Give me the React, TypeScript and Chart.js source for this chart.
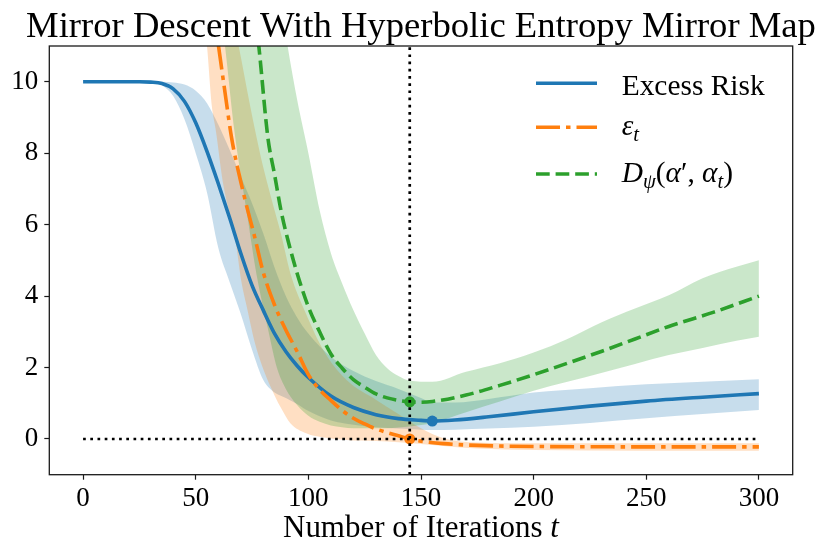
import React, { useEffect, useRef } from "react";
import { Chart, registerables } from "chart.js";

Chart.register(...registerables);

const FONT = "'Liberation Serif', 'Times New Roman', serif";

// ---- text ----
const TITLE = "Mirror Descent With Hyperbolic Entropy Mirror Map";
const X_LABEL = "Number of Iterations ";
const X_LABEL_VAR = "t";

// ---- axes ----
const X_TICKS = [0, 50, 100, 150, 200, 250, 300];
const Y_TICKS = [0, 2, 4, 6, 8, 10];
const X_RANGE = [-15, 315];
const Y_RANGE = [-1, 11];

// ---- Excess Risk (blue) ----
const T_BLUE = [0, 10, 20, 25, 30, 35, 40, 45, 50, 55, 60, 65, 70, 75, 80, 85, 90, 95, 100, 110, 120, 130, 140, 150, 155, 165, 180, 200, 225, 250, 275, 300];
const BLUE_MEAN = [10, 10, 10, 10, 9.99, 9.95, 9.8, 9.45, 8.85, 8.05, 7.15, 6.2, 5.2, 4.3, 3.6, 2.95, 2.45, 2.05, 1.72, 1.2, 0.88, 0.68, 0.57, 0.52, 0.5, 0.53, 0.62, 0.76, 0.92, 1.06, 1.17, 1.27];
const BLUE_UPPER = [10, 10, 10, 10, 10, 10, 9.98, 9.92, 9.75, 9.4, 8.8, 8.1, 7.35, 6.6, 5.75, 4.8, 4.0, 3.4, 2.95, 2.3, 1.9, 1.62, 1.4, 1.15, 1.02, 1.02, 1.12, 1.3, 1.42, 1.53, 1.6, 1.67];
const BLUE_LOWER = [10, 10, 10, 10, 10, 9.9, 9.6, 8.95, 8.0, 6.9, 5.35, 4.4, 3.5, 2.5, 1.65, 1.3, 1.15, 0.98, 0.78, 0.52, 0.4, 0.33, 0.29, 0.26, 0.25, 0.26, 0.29, 0.34, 0.45, 0.58, 0.7, 0.81];

// ---- epsilon_t (orange) ----
const T_ORANGE = [50, 55, 60, 63, 66, 70, 73, 76, 80, 85, 90, 95, 100, 105, 110, 115, 120, 125, 130, 135, 140, 145, 150, 160, 175, 200, 250, 300];
const ORANGE_MEAN = [15.5, 13.3, 11.05, 9.7, 8.4, 7.2, 6.42, 5.7, 4.66, 3.75, 3.05, 2.45, 1.8, 1.38, 1.08, 0.8, 0.58, 0.42, 0.28, 0.18, 0.09, 0.0, -0.06, -0.13, -0.18, -0.21, -0.22, -0.22];
const T_ORANGE_BAND = [45, 50, 55, 57, 59, 62, 65, 68, 70, 73, 76, 80, 85, 88, 92, 99, 107, 117, 130, 140, 150, 160, 175, 200, 250, 300];
const ORANGE_UPPER = [19, 17.5, 15.5, 14.6, 13.8, 12.7, 11.9, 11.3, 10.7, 9.7, 8.75, 7.6, 6.4, 5.7, 4.64, 3.5, 2.45, 1.65, 1.1, 0.7, 0.3, 0.02, -0.1, -0.12, -0.12, -0.12];
const ORANGE_LOWER = [16, 13.5, 11.0, 9.4, 8.6, 7.2, 6.3, 5.4, 4.5, 3.6, 2.75, 1.95, 1.22, 0.85, 0.44, 0.16, 0.04, -0.03, -0.06, -0.09, -0.14, -0.2, -0.27, -0.31, -0.33, -0.33];

// ---- D_psi (green) ----
const T_GREEN = [70, 75, 78, 82, 85, 88, 91, 95, 100, 105, 110, 115, 120, 125, 130, 135, 140, 145, 150, 155, 170, 185, 200, 215, 230, 245, 260, 280, 300];
const GREEN_MEAN = [15.5, 12.6, 11.0, 8.45, 7.4, 6.35, 5.55, 4.64, 3.7, 3.0, 2.38, 1.98, 1.66, 1.45, 1.26, 1.15, 1.08, 1.04, 1.03, 1.05, 1.23, 1.5, 1.8, 2.12, 2.45, 2.8, 3.15, 3.55, 4.0];
const T_GREEN_BAND = [55, 60, 63, 67, 73, 77, 82, 86, 90, 95, 100, 105, 110, 115, 120, 125, 130, 135, 140, 145, 155, 170, 185, 200, 215, 230, 245, 260, 275, 290, 300];
const GREEN_UPPER = [25, 23, 22, 20, 18, 16.5, 14.5, 13, 11.3, 9.5, 8.0, 6.4, 5.2, 4.35, 3.6, 2.95, 2.35, 1.98, 1.76, 1.63, 1.6, 1.88, 2.12, 2.42, 2.8, 3.26, 3.65, 4.02, 4.5, 4.82, 5.0];
const GREEN_LOWER = [14.5, 12.5, 11.0, 8.7, 6.2, 4.6, 3.1, 2.0, 1.4, 0.95, 0.65, 0.48, 0.38, 0.33, 0.3, 0.3, 0.3, 0.3, 0.32, 0.35, 0.45, 0.75, 1.05, 1.35, 1.6, 1.85, 2.1, 2.35, 2.55, 2.75, 2.86];

// ---- markers & reference lines ----
const BLUE_MIN_POINT = [155, 0.5];
const ORANGE_STOP_POINT = [145, 0.0];
const GREEN_STOP_POINT = [145, 1.04];
const STOP_T = 145;
const ZERO_LINE_T = [0, 300];

const C_BLUE = "#1f77b4";
const C_ORANGE = "#ff7f0e";
const C_GREEN = "#2ca02c";
const BAND_BLUE = "rgba(31,119,180,0.25)";
const BAND_ORANGE = "rgba(255,127,14,0.25)";
const BAND_GREEN = "rgba(44,160,44,0.25)";

const DASH_ORANGE = [24, 6, 4.5, 6];
const DASH_GREEN = [13.7, 5.9];
const DOT = [2.7, 4.5];
const LW = 3.6;

type Run = { text: string; italic?: boolean; sub?: boolean };

const LEGEND_ROWS: { runs: Run[]; color: string; dash: number[] }[] = [
  { runs: [{ text: "Excess Risk" }], color: C_BLUE, dash: [] },
  { runs: [{ text: "ε", italic: true }, { text: "t", italic: true, sub: true }], color: C_ORANGE, dash: DASH_ORANGE },
  {
    runs: [
      { text: "D", italic: true },
      { text: "ψ", italic: true, sub: true },
      { text: "(" },
      { text: "α", italic: true },
      { text: "′" },
      { text: ", " },
      { text: "α", italic: true },
      { text: "t", italic: true, sub: true },
      { text: ")" },
    ],
    color: C_GREEN,
    dash: DASH_GREEN,
  },
];

function runFont(r: Run, size: number) {
  const s = r.sub ? size * 0.7 : size;
  return `${r.italic ? "italic " : ""}${s}px ${FONT}`;
}
function measureRuns(ctx: CanvasRenderingContext2D, runs: Run[], size: number) {
  let w = 0;
  for (const r of runs) {
    ctx.font = runFont(r, size);
    w += ctx.measureText(r.text).width;
  }
  return w;
}
function drawRuns(ctx: CanvasRenderingContext2D, runs: Run[], x: number, y: number, size: number) {
  let cx = x;
  for (const r of runs) {
    ctx.font = runFont(r, size);
    ctx.fillText(r.text, cx, y + (r.sub ? size * 0.22 : 0));
    cx += ctx.measureText(r.text).width;
  }
}
function fitSize(ctx: CanvasRenderingContext2D, runs: Run[], width: number) {
  const w = measureRuns(ctx, runs, 100);
  return (100 * width) / w;
}

const decorPlugin = {
  id: "decor",
  afterDraw(chart: any) {
    const ctx: CanvasRenderingContext2D = chart.ctx;
    const { left, right, top, bottom } = chart.chartArea;
    const cx = (left + right) / 2;
    ctx.save();
    // frame
    ctx.strokeStyle = "#1a1a1a";
    ctx.lineWidth = 1.3;
    ctx.setLineDash([]);
    ctx.strokeRect(left, top, right - left, bottom - top);

    ctx.fillStyle = "#000";
    ctx.textBaseline = "alphabetic";
    ctx.textAlign = "left";
    // title
    const titleRuns: Run[] = [{ text: TITLE }];
    const ts = fitSize(ctx, titleRuns, 790);
    const tw = measureRuns(ctx, titleRuns, ts);
    drawRuns(ctx, titleRuns, cx - tw / 2, 37, ts);

    // x label
    const xl: Run[] = [{ text: X_LABEL }, { text: X_LABEL_VAR, italic: true }];
    const xs = fitSize(ctx, xl, 276);
    const xw = measureRuns(ctx, xl, xs);
    drawRuns(ctx, xl, cx - xw / 2, 537, xs);

    // legend
    const ls = fitSize(ctx, LEGEND_ROWS[0].runs, 143);
    const lineYs = [83.3, 127.3, 174];
    const textYs = [95, 135, 181.7];
    LEGEND_ROWS.forEach((row, i) => {
      ctx.beginPath();
      ctx.strokeStyle = row.color;
      ctx.lineWidth = LW;
      ctx.lineCap = "butt";
      ctx.setLineDash(row.dash);
      ctx.moveTo(536, lineYs[i]);
      ctx.lineTo(597, lineYs[i]);
      ctx.stroke();
      ctx.setLineDash([]);
      ctx.fillStyle = "#000";
      drawRuns(ctx, row.runs, 621.7, textYs[i], ls);
    });
    ctx.restore();
  },
};

const pts = (ts: number[], vs: number[]) => ts.map((t, i) => ({ x: t, y: vs[i] }));

export default function App() {
  const ref = useRef<HTMLCanvasElement | null>(null);
  useEffect(() => {
    if (!ref.current) return;
    const band = (ts: number[], vs: number[], color: string | false, order: number) => ({
      data: pts(ts, vs),
      borderWidth: 0,
      borderColor: "transparent",
      pointRadius: 0,
      fill: color ? "+1" : false,
      backgroundColor: color || "transparent",
      cubicInterpolationMode: "monotone",
      order,
    });
    const line = (ts: number[], vs: number[], color: string, dash: number[], order: number) => ({
      data: pts(ts, vs),
      borderWidth: LW,
      borderColor: color,
      borderDash: dash,
      borderCapStyle: "butt",
      pointRadius: 0,
      fill: false,
      cubicInterpolationMode: "monotone",
      order,
    });
    const marker = (p: number[], color: string) => ({
      data: [{ x: p[0], y: p[1] }],
      showLine: false,
      pointRadius: 5.5,
      pointBackgroundColor: color,
      pointBorderWidth: 0,
      pointBorderColor: color,
      order: 1,
    });
    const chart = new Chart(ref.current, {
      type: "line",
      data: {
        datasets: [
          band(T_BLUE, BLUE_UPPER, BAND_BLUE, 12),
          band(T_BLUE, BLUE_LOWER, false, 20),
          band(T_ORANGE_BAND, ORANGE_UPPER, BAND_ORANGE, 11),
          band(T_ORANGE_BAND, ORANGE_LOWER, false, 20),
          band(T_GREEN_BAND, GREEN_UPPER, BAND_GREEN, 10),
          band(T_GREEN_BAND, GREEN_LOWER, false, 20),
          line(T_BLUE, BLUE_MEAN, C_BLUE, [], 4),
          line(T_ORANGE, ORANGE_MEAN, C_ORANGE, DASH_ORANGE, 3),
          line(T_GREEN, GREEN_MEAN, C_GREEN, DASH_GREEN, 2),
          marker(BLUE_MIN_POINT, C_BLUE),
          marker(ORANGE_STOP_POINT, C_ORANGE),
          marker(GREEN_STOP_POINT, C_GREEN),
          {
            data: ZERO_LINE_T.map((t) => ({ x: t, y: 0 })),
            borderWidth: 2.7,
            borderColor: "#000",
            borderDash: DOT,
            borderCapStyle: "butt",
            pointRadius: 0,
            tension: 0,
            fill: false,
            order: 0,
          },
          {
            data: Y_RANGE.map((v) => ({ x: STOP_T, y: v })),
            borderWidth: 2.7,
            borderColor: "#000",
            borderDash: DOT,
            borderCapStyle: "butt",
            pointRadius: 0,
            tension: 0,
            fill: false,
            order: 0,
          },
        ] as any,
      },
      options: {
        animation: false,
        responsive: false,
        devicePixelRatio: 1,
        events: [],
        layout: { padding: { left: 0, top: 46, right: 830 - 792.7, bottom: 0 } },
        plugins: {
          legend: { display: false },
          tooltip: { enabled: false },
          title: { display: false },
          filler: { drawTime: "beforeDatasetsDraw" },
        } as any,
        scales: {
          x: {
            type: "linear",
            min: X_RANGE[0],
            max: X_RANGE[1],
            afterBuildTicks: (axis: any) => {
              axis.ticks = X_TICKS.map((v) => ({ value: v }));
            },
            afterFit: (axis: any) => {
              axis.height = 558 - 474.7;
            },
            grid: { drawOnChartArea: false, drawTicks: true, tickLength: 5, tickWidth: 1.2, tickColor: "#1a1a1a" },
            border: { display: false },
            ticks: { font: { family: FONT, size: 27 }, color: "#000", padding: 3, maxRotation: 0, autoSkip: false, callback: (v: any) => String(v) },
          },
          y: {
            type: "linear",
            min: Y_RANGE[0],
            max: Y_RANGE[1],
            afterBuildTicks: (axis: any) => {
              axis.ticks = Y_TICKS.map((v) => ({ value: v }));
            },
            afterFit: (axis: any) => {
              axis.width = 49.3;
            },
            grid: { drawOnChartArea: false, drawTicks: true, tickLength: 5, tickWidth: 1.2, tickColor: "#1a1a1a" },
            border: { display: false },
            ticks: { font: { family: FONT, size: 27 }, color: "#000", padding: 6, autoSkip: false, callback: (v: any) => String(v) },
          },
        },
      } as any,
      plugins: [decorPlugin],
    });
    return () => chart.destroy();
  }, []);
  return (
    <div style={{ position: "fixed", left: 0, top: 0, width: 830, height: 558, background: "#fff" }}>
      <canvas ref={ref} width={830} height={558} style={{ display: "block" }} />
    </div>
  );
}
